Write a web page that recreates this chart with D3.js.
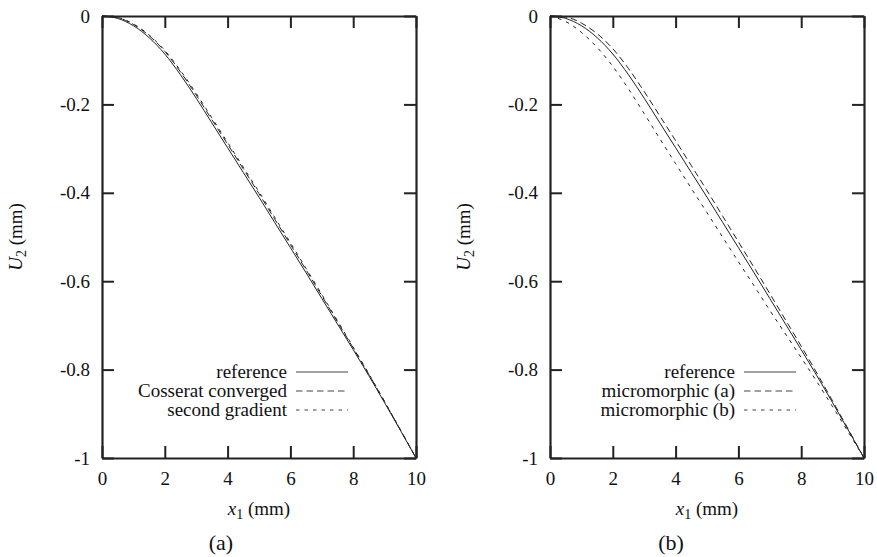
<!DOCTYPE html>
<html>
<head>
<meta charset="utf-8">
<script src="https://cdn.jsdelivr.net/npm/d3@7"></script>
<style>
  body { margin: 0; background: #fff; }
  text.serif { font-family: "Liberation Serif"; fill: #111; }
</style>
</head>
<body>
<svg id="chart" width="877" height="557"></svg>
<script>
// x positions (mm)
const x1 = [0, 0.5, 1, 1.5, 2, 2.5, 3, 3.5, 4, 4.5, 5, 5.5, 6, 6.5, 7, 7.5, 8, 8.5, 9, 9.5, 10];

// U2 (mm)
const reference = [0, -0.0055, -0.022, -0.049, -0.086, -0.133, -0.186, -0.242, -0.298, -0.354, -0.410, -0.467, -0.524, -0.581, -0.639, -0.697, -0.755, -0.814, -0.875, -0.937, -1.0];
const cosserat = [0, -0.004, -0.019, -0.0445, -0.080, -0.1265, -0.179, -0.2345, -0.290, -0.346, -0.402, -0.4595, -0.517, -0.5745, -0.633, -0.692, -0.751, -0.811, -0.873, -0.936, -1.0];
const secondGradient = [0, -0.0035, -0.018, -0.043, -0.078, -0.1235, -0.175, -0.2305, -0.286, -0.342, -0.398, -0.4555, -0.513, -0.571, -0.630, -0.6895, -0.749, -0.8095, -0.872, -0.9355, -1.0];
const microA = [0, -0.0025, -0.016, -0.040, -0.074, -0.119, -0.171, -0.2265, -0.282, -0.3385, -0.395, -0.453, -0.511, -0.569, -0.628, -0.6875, -0.747, -0.808, -0.871, -0.935, -1.0];
const microB = [0, -0.0125, -0.037, -0.071, -0.114, -0.165, -0.221, -0.278, -0.334, -0.390, -0.445, -0.5005, -0.556, -0.6105, -0.666, -0.7195, -0.773, -0.8275, -0.884, -0.9415, -1.0];

const xTicks = [0, 2, 4, 6, 8, 10];
const yTicks = [0, -0.2, -0.4, -0.6, -0.8, -1];
const yTickLabels = ["0", "-0.2", "-0.4", "-0.6", "-0.8", "-1"];

const dashes = { solid: null, dashed: "6.5,4", dotted: "3.5,5" };

const panels = [
  { left: 102, caption: "(a)", captionX: 221,
    series: [
      { name: "reference", values: reference, style: "solid" },
      { name: "Cosserat converged", values: cosserat, style: "dashed" },
      { name: "second gradient", values: secondGradient, style: "dotted" }
    ] },
  { left: 550, caption: "(b)", captionX: 671,
    series: [
      { name: "reference", values: reference, style: "solid" },
      { name: "micromorphic (a)", values: microA, style: "dashed" },
      { name: "micromorphic (b)", values: microB, style: "dotted" }
    ] }
];

const svg = d3.select("#chart");
const plotTop = 16, plotBottom = 458, w = 314, tickLen = 12;

panels.forEach(p => {
  const g = svg.append("g").attr("transform", `translate(${p.left},0)`);
  const x = d3.scaleLinear().domain([0, 10]).range([0, w]);
  const y = d3.scaleLinear().domain([-1, 0]).range([plotBottom, plotTop]);

  // curves
  const line = d3.line().x(d => x(d[0])).y(d => y(d[1])).curve(d3.curveMonotoneX);
  p.series.forEach(s => {
    g.append("path")
      .datum(x1.map((v, i) => [v, s.values[i]]))
      .attr("fill", "none")
      .attr("stroke", "#222")
      .attr("stroke-width", 1)
      .attr("stroke-dasharray", dashes[s.style])
      .attr("d", line);
  });

  // axes, ticks inside, mirrored on top/right
  const fmt = (d, i) => yTickLabels[i];
  g.append("g").attr("transform", `translate(0,${plotBottom})`)
    .call(d3.axisBottom(x).tickValues(xTicks).tickSizeInner(-tickLen).tickSizeOuter(0).tickPadding(14));
  g.append("g").attr("transform", `translate(0,${plotTop})`)
    .call(d3.axisTop(x).tickValues(xTicks).tickSizeInner(-tickLen).tickSizeOuter(0).tickFormat(""));
  g.append("g")
    .call(d3.axisLeft(y).tickValues(yTicks).tickSizeInner(-tickLen).tickSizeOuter(0).tickPadding(12).tickFormat(fmt));
  g.append("g").attr("transform", `translate(${w},0)`)
    .call(d3.axisRight(y).tickValues(yTicks).tickSizeInner(-tickLen).tickSizeOuter(0).tickFormat(""));

  g.selectAll(".domain").attr("stroke", "#222").attr("stroke-width", 2.2);
  g.selectAll(".tick line").attr("stroke", "#222").attr("stroke-width", 2);
  g.selectAll(".tick text").attr("class", "serif").attr("font-size", 19);

  // legend
  const legX = w - 122;
  p.series.forEach((s, i) => {
    const ly = 372 + i * 19;
    g.append("text").attr("class", "serif").attr("x", legX - 7).attr("y", ly).attr("dy", "0.33em")
      .attr("text-anchor", "end").attr("font-size", 19).text(s.name);
    g.append("line").attr("x1", legX + 2).attr("x2", legX + 54).attr("y1", ly).attr("y2", ly)
      .attr("stroke", "#444").attr("stroke-width", 1)
      .attr("stroke-dasharray", dashes[s.style]);
  });

  // x label
  const xl = g.append("text").attr("class", "serif").attr("x", w / 2).attr("y", 515)
    .attr("text-anchor", "middle").attr("font-size", 19);
  xl.append("tspan").attr("font-style", "italic").text("x");
  xl.append("tspan").attr("dy", 4).attr("font-size", 14).text("1");
  xl.append("tspan").attr("dy", -4).text(" (mm)");

  // y label
  const yl = svg.append("text").attr("class", "serif")
    .attr("transform", `translate(${p.left - 80},${(plotTop + plotBottom) / 2}) rotate(-90)`)
    .attr("text-anchor", "middle").attr("font-size", 19);
  yl.append("tspan").attr("font-style", "italic").text("U");
  yl.append("tspan").attr("dy", 4).attr("font-size", 14).text("2");
  yl.append("tspan").attr("dy", -4).text(" (mm)");

  svg.append("text").attr("class", "serif").attr("x", p.captionX).attr("y", 550)
    .attr("text-anchor", "middle").attr("font-size", 22).text(p.caption);
});
</script>
</body>
</html>
